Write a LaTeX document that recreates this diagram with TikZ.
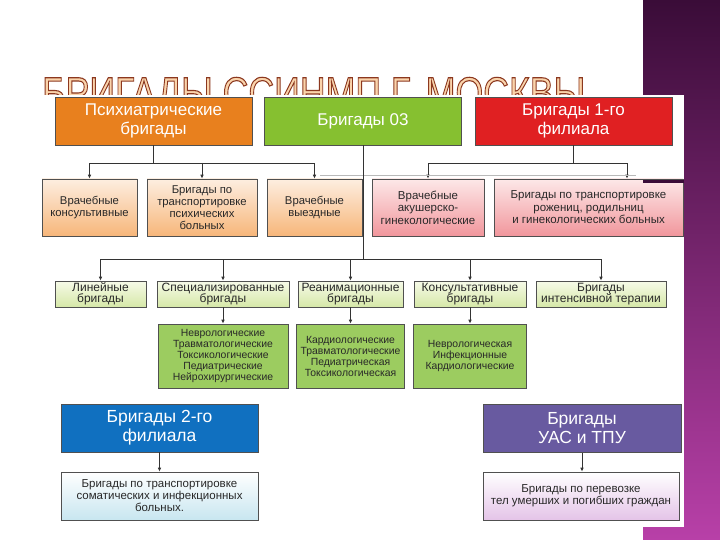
\documentclass[tikz,border=0pt]{standalone}
\usepackage{fontspec}
\setmainfont{Liberation Sans}
\usepackage{graphicx}
\usetikzlibrary{arrows.meta}
\definecolor{cOrange}{RGB}{232,128,30}
\definecolor{cGreen}{RGB}{134,192,48}
\definecolor{cRed}{RGB}{224,32,34}
\definecolor{cBlue}{RGB}{16,112,192}
\definecolor{cPurple}{RGB}{104,90,160}
\definecolor{oTop}{RGB}{253,238,224}
\definecolor{oBot}{RGB}{247,182,122}
\definecolor{pTop}{RGB}{253,232,232}
\definecolor{pBot}{RGB}{241,150,156}
\definecolor{gTop}{RGB}{246,250,232}
\definecolor{gBot}{RGB}{214,232,168}
\definecolor{gFill}{RGB}{156,204,96}
\definecolor{bBot}{RGB}{200,230,240}
\definecolor{vBot}{RGB}{228,196,232}
\definecolor{stripTop}{RGB}{58,12,56}
\definecolor{stripBot}{RGB}{184,64,168}
\definecolor{titleFill}{RGB}{250,212,172}
\definecolor{bordr}{RGB}{80,80,80}
\definecolor{txt}{RGB}{40,40,40}
\newcommand{\outlinetext}[1]{\special{pdf:literal 0.55 0.22 0.12 RG 1.1 w 2 Tr}#1\special{pdf:literal 0 Tr}}
\begin{document}
\begin{tikzpicture}[x=1pt,y=-1pt,
  box/.style={draw=bordr, line width=0.6pt, inner sep=0pt, align=center, text=txt},
  topbox/.style={box, text=white, font=\fontsize{17}{19}\selectfont, minimum width=197pt, minimum height=48pt},
  orbox/.style={box, top color=oTop, bottom color=oBot, font=\fontsize{11.3}{11.8}\selectfont, minimum height=57pt},
  pkbox/.style={box, top color=pTop, bottom color=pBot, font=\fontsize{11.5}{12.5}\selectfont, minimum height=57pt},
  lgbox/.style={box, top color=gTop, bottom color=gBot, font=\fontsize{12}{11.5}\selectfont, minimum height=26pt},
  dgbox/.style={box, fill=gFill, font=\fontsize{10.4}{11}\selectfont, minimum height=64pt},
  subbox/.style={box, font=\fontsize{11.5}{12}\selectfont, minimum width=197pt, minimum height=48pt},
  conn/.style={draw=black!80, line width=0.8pt},
  arr/.style={conn, -{Latex[length=4pt,width=3.6pt]}}
]
\useasboundingbox (0,0) rectangle (720,540);
\fill[white] (0,0) rectangle (720,540);
\shade[top color=stripTop, bottom color=stripBot] (643,0) rectangle (720,540);
% title
\node[anchor=base west, inner sep=0pt, text=titleFill] (title) at (42,108)
  {\resizebox{543pt}{\height}{\fontsize{44}{44}\selectfont\outlinetext{БРИГАДЫ ССИНМП Г. МОСКВЫ}}};
% white panel
\fill[white] (38,95) rectangle (684,527);

% row 1
\node[topbox, fill=cOrange] (psy) at (153.5,121) {Психиатрические\\бригады};
\node[topbox, fill=cGreen] (b03) at (363,121) {Бригады 03};
\node[topbox, fill=cRed] (f1) at (573.5,121) {Бригады 1-го\\филиала};

% row 2
\node[orbox, minimum width=95pt] (vk) at (89.5,207.5) {Врачебные\\консультивные};
\node[orbox, minimum width=110pt] (tp) at (202,207.5) {Бригады по\\транспортировке\\психических\\больных};
\node[orbox, minimum width=95pt] (vv) at (314.5,207.5) {Врачебные\\выездные};
\node[pkbox, minimum width=112pt] (ag) at (428,207.5) {Врачебные\\акушерско-\\гинекологические};
\node[pkbox, minimum width=189pt] (tr) at (588.5,207.5) {Бригады по транспортировке\\рожениц, родильниц\\и гинекологических больных};

% row 3
\node[lgbox, minimum width=91pt] (lin) at (100.5,294) {Линейные\\бригады};
\node[lgbox, minimum width=132pt] (spec) at (223,294) {Специализированные\\бригады};
\node[lgbox, minimum width=105pt] (rean) at (350.5,294) {Реанимационные\\бригады};
\node[lgbox, minimum width=112pt] (kons) at (470,294) {Консультативные\\бригады};
\node[lgbox, minimum width=130pt] (int) at (601,294) {Бригады\\интенсивной терапии};

% row 4
\node[dgbox, minimum width=130pt] (nA) at (223,356) {Неврологические\\Травматологические\\Токсикологические\\Педиатрические\\Нейрохирургические};
\node[dgbox, minimum width=108pt] (nB) at (350.5,356) {Кардиологические\\Травматологические\\Педиатрическая\\Токсикологическая};
\node[dgbox, minimum width=113pt] (nC) at (470,356) {Неврологическая\\Инфекционные\\Кардиологические};

% row 5
\node[topbox, fill=cBlue, font=\fontsize{17.5}{19}\selectfont] (f2) at (159.5,428) {Бригады 2-го\\филиала};
\node[topbox, fill=cPurple, font=\fontsize{17.5}{19}\selectfont, minimum width=198pt] (uas) at (582,428.5) {Бригады\\УАС и ТПУ};
\node[subbox, top color=white, bottom color=bBot] (f2s) at (159.5,496) {Бригады по транспортировке\\соматических и инфекционных\\больных.};
\node[subbox, top color=white, bottom color=vBot, minimum width=196pt] (uass) at (581,496) {Бригады по перевозке\\тел умерших и погибших граждан};

% connectors: orange
\coordinate (bo) at (153.5,163);
\draw[conn] (psy.south) -- (bo);
\draw[arr] (bo) -| (vk.north);
\draw[arr] (bo) -| (vv.north);
\draw[arr] (bo -| tp.north) -- (tp.north);
% red
\coordinate (br) at (573.5,163);
\coordinate (trin) at (627,163);
\draw[conn] (f1.south) -- (br);
\draw[arr] (br) -| (ag.north);
\draw[arr] (br) -- (trin) -- (trin |- tr.north);
% faint line
\coordinate (gl1) at (320,175);
\coordinate (gl2) at (636,175);
\draw[gray!55, line width=0.6pt] (gl1) -- (gl2);
% green
\coordinate (bg) at (363,259);
\draw[conn] (b03.south) -- (bg);
\draw[arr] (bg) -| (lin.north);
\draw[arr] (bg) -| (int.north);
\draw[arr] (bg -| spec.north) -- (spec.north);
\draw[arr] (bg -| rean.north) -- (rean.north);
\draw[arr] (bg -| kons.north) -- (kons.north);
% row 3 to row 4
\draw[arr] (spec.south) -- (nA.north);
\draw[arr] (rean.south) -- (nB.north);
\draw[arr] (kons.south) -- (kons.south |- nC.north);
% row 5
\draw[arr] (f2.south) -- (f2s.north);
\draw[arr] (uas.south) -- (uas.south |- uass.north);
% dark bar
\fill[stripTop] (643,180) rectangle (684,183);
\end{tikzpicture}
\end{document}
